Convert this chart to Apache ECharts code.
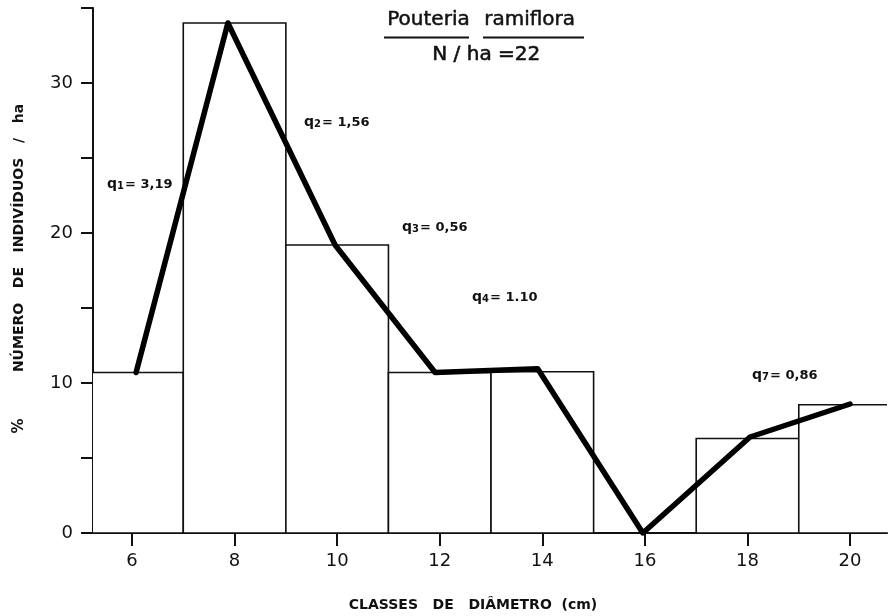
<!DOCTYPE html>
<html>
<head>
<meta charset="utf-8">
<script src="https://cdn.jsdelivr.net/npm/echarts@6/dist/echarts.min.js"></script>
<style>
  html, body { margin: 0; padding: 0; background: #fff; }
  #chart { width: 892px; height: 616px; }
</style>
</head>
<body>
<div id="chart"></div>
<script>
// classes de diâmetro (cm) - centro de cada classe
var classes = [6, 8, 10, 12, 14, 16, 18, 20];
// % número de indivíduos / ha (barras)
var barValues = [10.7, 34, 19.2, 10.7, 10.75, 0, 6.3, 8.55];
// linha poligonal
var lineX = [6.08, 7.87, 9.96, 11.91, 13.91, 15.96, 18.05, 20];
var lineY = [10.7, 34, 19.2, 10.7, 10.95, 0, 6.4, 8.6];
// quocientes q
var qNames = ['1', '2', '3', '4', '7'];
var qValues = ['3,19', '1,56', '0,56', '1.10', '0,86'];
var yTicks = [0, 10, 20, 30];

var chart = echarts.init(document.getElementById('chart'));

var histData = classes.map(function (c, i) {
    return [c - 1, c + 1, barValues[i]];
});
var lineData = lineX.map(function (x, i) {
    return [x, lineY[i]];
});

// posições dos textos q (px)
var qPos = [[107, 187], [304, 125], [402, 230], [472, 300], [752, 378]];

var fontMain = '"DejaVu Sans", sans-serif';

var graphics = [
    { type: 'text', left: 387, top: 10, style: { text: 'Pouteria', font: '20px ' + fontMain, fill: '#111', stroke: '#111', lineWidth: 0.5 } },
    { type: 'text', left: 484, top: 10, style: { text: 'ramiflora', font: '20px ' + fontMain, fill: '#111', stroke: '#111', lineWidth: 0.5 } },
    { type: 'line', shape: { x1: 384, y1: 37.5, x2: 469, y2: 37.5 }, style: { stroke: '#111', lineWidth: 2 } },
    { type: 'line', shape: { x1: 483, y1: 37.5, x2: 584, y2: 37.5 }, style: { stroke: '#111', lineWidth: 2 } },
    { type: 'text', left: 432, top: 44, style: { text: 'N / ha =22', font: '20px ' + fontMain, fill: '#111', stroke: '#111', lineWidth: 0.6 } },
    {
        type: 'text', x: 19, y: 238, rotation: Math.PI / 2,
        style: { text: 'NÚMERO   DE   INDIVÍDUOS   /   ha', font: 'bold 14px ' + fontMain, fill: '#111', align: 'center', verticalAlign: 'middle' }
    },
    {
        type: 'text', x: 19, y: 426, rotation: Math.PI / 2,
        style: { text: '%', font: 'bold 15px ' + fontMain, fill: '#111', align: 'center', verticalAlign: 'middle' }
    },
    {
        type: 'text', x: 473, y: 605,
        style: { text: 'CLASSES   DE   DIÂMETRO  (cm)', font: 'bold 14px ' + fontMain, fill: '#111', align: 'center', verticalAlign: 'middle' }
    },
    // prolongamento do eixo x à esquerda
    { type: 'line', shape: { x1: 83, y1: 533, x2: 93, y2: 533 }, style: { stroke: '#111', lineWidth: 2 } }
];

qNames.forEach(function (n, i) {
    graphics.push({
        type: 'text', left: qPos[i][0], top: qPos[i][1] - 10,
        style: {
            text: '{q|q}{s|' + n + '}{e|= ' + qValues[i] + '}',
            rich: {
                q: { font: 'bold 14px ' + fontMain, fill: '#111', verticalAlign: 'bottom' },
                s: { font: 'bold 10px ' + fontMain, fill: '#111', verticalAlign: 'bottom', padding: [0, 1, 0, 0] },
                e: { font: 'bold 13px ' + fontMain, fill: '#111', verticalAlign: 'bottom' }
            }
        }
    });
});

var option = {
    backgroundColor: '#fff',
    animation: false,
    grid: { left: 93, right: 5, top: 8, bottom: 83 },
    xAxis: {
        type: 'value',
        min: 5.24,
        max: 20.72,
        axisLine: { lineStyle: { color: '#111', width: 2 } },
        axisTick: { customValues: classes, length: 13, lineStyle: { color: '#111', width: 2 } },
        axisLabel: { customValues: classes, fontSize: 18, color: '#111', margin: 19, fontFamily: fontMain },
        splitLine: { show: false }
    },
    yAxis: {
        type: 'value',
        min: 0,
        max: 35,
        interval: 5,
        axisLine: { show: true, lineStyle: { color: '#111', width: 2 } },
        axisTick: { length: 12, lineStyle: { color: '#111', width: 2 } },
        axisLabel: {
            fontSize: 18, color: '#111', margin: 20, fontFamily: fontMain,
            formatter: function (v) { return yTicks.indexOf(v) >= 0 ? v : ''; }
        },
        splitLine: { show: false }
    },
    series: [
        {
            type: 'custom',
            clip: true,
            data: histData,
            encode: { x: [0, 1], y: 2 },
            renderItem: function (params, api) {
                var p0 = api.coord([api.value(0), 0]);
                var p1 = api.coord([api.value(1), api.value(2)]);
                return {
                    type: 'rect',
                    shape: { x: p0[0], y: p1[1], width: p1[0] - p0[0], height: p0[1] - p1[1] },
                    style: { fill: '#fff', stroke: '#111', lineWidth: 1.6 }
                };
            }
        },
        {
            type: 'line',
            data: lineData,
            symbol: 'none',
            lineStyle: { color: '#000', width: 5.5, join: 'round', cap: 'round' },
            z: 5
        }
    ],
    graphic: graphics
};

chart.setOption(option);
window.addEventListener('resize', function () {
    chart.resize();
});
</script>
</body>
</html>
